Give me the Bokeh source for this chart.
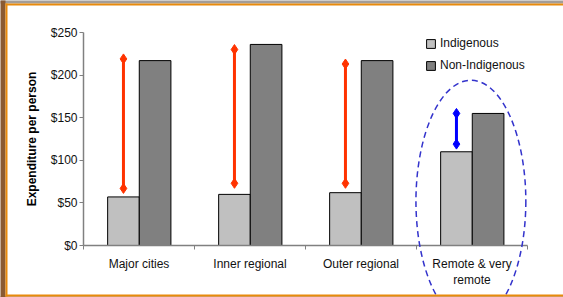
import numpy as np
from bokeh.plotting import figure
from bokeh.models import (Range1d, FixedTicker, NumeralTickFormatter, Legend, LegendItem)
from bokeh.embed import file_html
from bokeh.resources import INLINE

# ---- data ----
categories = ["Major cities", "Inner regional", "Outer regional", "Remote & very\nremote"]
indigenous = [57, 60, 62, 110]
non_indigenous = [217, 236, 217, 155]
arrow_low = [67, 73, 73, 119]
arrow_high = [219, 230, 213, 155]
arrow_colors = ["#FF3300", "#FF3300", "#FF3300", "#0000FF"]
y_ticks = [0, 50, 100, 150, 200, 250]
highlight_index = 3            # category circled by the dashed ellipse
ellipse_center_value = 52
ellipse_height_value = 284

FONT = "Liberation Sans"

n = len(categories)
idx = np.arange(n)
x_ind = idx + 0.36
x_non = idx + 0.645
bar_w = 0.285

W, H = 563, 297
BL, BR, BT, BB = 83, 36, 32, 52
Y_MAX = 250

p = figure(width=W, height=H, output_backend="svg", toolbar_location=None,
           x_range=Range1d(0, n), y_range=Range1d(0, Y_MAX),
           min_border_left=BL, min_border_right=BR, min_border_top=BT, min_border_bottom=BB)
p.background_fill_color = "white"
p.border_fill_color = "white"
p.outline_line_color = None
p.xgrid.visible = False
p.ygrid.visible = False

r_ind = p.vbar(x=x_ind, top=indigenous, width=bar_w, bottom=0,
               fill_color="#C0C0C0", line_color="#000000", line_width=1)
r_non = p.vbar(x=x_non, top=non_indigenous, width=bar_w, bottom=0,
               fill_color="#808080", line_color="#000000", line_width=1)

# difference arrows
p.segment(x0=x_ind, y0=arrow_low, x1=x_ind, y1=arrow_high,
          line_color=arrow_colors, line_width=3)
p.scatter(x=np.concatenate([x_ind, x_ind]), y=arrow_low + arrow_high,
          marker="diamond", size=10,
          fill_color=arrow_colors + arrow_colors, line_color=arrow_colors + arrow_colors)

# dashed ellipse around remote
p.ellipse(x=[highlight_index + 0.49], y=[ellipse_center_value], width=0.99,
          height=ellipse_height_value, fill_color=None, line_color="#3333CC",
          line_width=1.5, line_dash="6 4", level="overlay")

# decorative slide frame (page-pixel boxes converted to data space, drawn unclipped)
fw, fh = W - BL - BR, H - BT - BB
def px_x(v):
    return (v - BL) * n / fw
def px_y(v):
    return (H - BB - v) * Y_MAX / fh
frame_boxes = [  # left, right, top, bottom in page pixels, colour
    (0, W, 0, 3, "#A39D97"),
    (0, 5, 0, H, "#8A5A32"),
    (0, W, 296, H, "#8A5A32"),
    (5, W, 3, 5, "#E88A0C"),
    (5, 7, 3, 296, "#E88A0C"),
    (5, W, 294, 296, "#E88A0C"),
]
p.quad(left=[px_x(b[0]) for b in frame_boxes], right=[px_x(b[1]) for b in frame_boxes],
       top=[px_y(b[2]) for b in frame_boxes], bottom=[px_y(b[3]) for b in frame_boxes],
       fill_color=[b[4] for b in frame_boxes], line_color=None, level="overlay")

# axes
xa = p.xaxis[0]
xa.ticker = FixedTicker(ticks=list(idx + 0.5), minor_ticks=list(range(n + 1)))
xa.major_label_overrides = {float(i + 0.5): c for i, c in enumerate(categories)}
xa.major_tick_line_color = None
xa.major_tick_out = 0
xa.major_tick_in = 0
xa.minor_tick_line_color = "#808080"
xa.minor_tick_out = 4
xa.minor_tick_in = 0
xa.axis_line_color = "#808080"
xa.axis_line_width = 1.5
xa.major_label_text_font = FONT
xa.major_label_text_font_size = "12px"
xa.major_label_text_color = "#111111"
xa.major_label_standoff = 7

ya = p.yaxis[0]
ya.ticker = FixedTicker(ticks=y_ticks)
ya.formatter = NumeralTickFormatter(format="$0")
ya.minor_tick_line_color = None
ya.major_tick_line_color = "#808080"
ya.major_tick_out = 4
ya.major_tick_in = 0
ya.axis_line_color = "#808080"
ya.axis_line_width = 1.5
ya.major_label_text_font = FONT
ya.major_label_text_font_size = "12px"
ya.major_label_text_color = "#111111"
ya.major_label_standoff = 2
ya.axis_label = "Expenditure per person"
ya.axis_label_text_font = FONT
ya.axis_label_text_font_size = "12px"
ya.axis_label_text_font_style = "bold"
ya.axis_label_text_color = "#000000"
ya.axis_label_standoff = 9

legend = Legend(items=[LegendItem(label="Indigenous", renderers=[r_ind]),
                       LegendItem(label="Non-Indigenous", renderers=[r_non])],
                location=(342, 172), orientation="vertical")
legend.background_fill_alpha = 0
legend.border_line_color = None
legend.label_text_font = FONT
legend.label_text_font_size = "12px"
legend.label_text_color = "#111111"
legend.glyph_width = 11
legend.glyph_height = 11
legend.label_height = 16
legend.label_standoff = 4
legend.spacing = 6
legend.padding = 0
legend.margin = 0
p.add_layout(legend)

open("out.html", "w").write(file_html(p, INLINE))
